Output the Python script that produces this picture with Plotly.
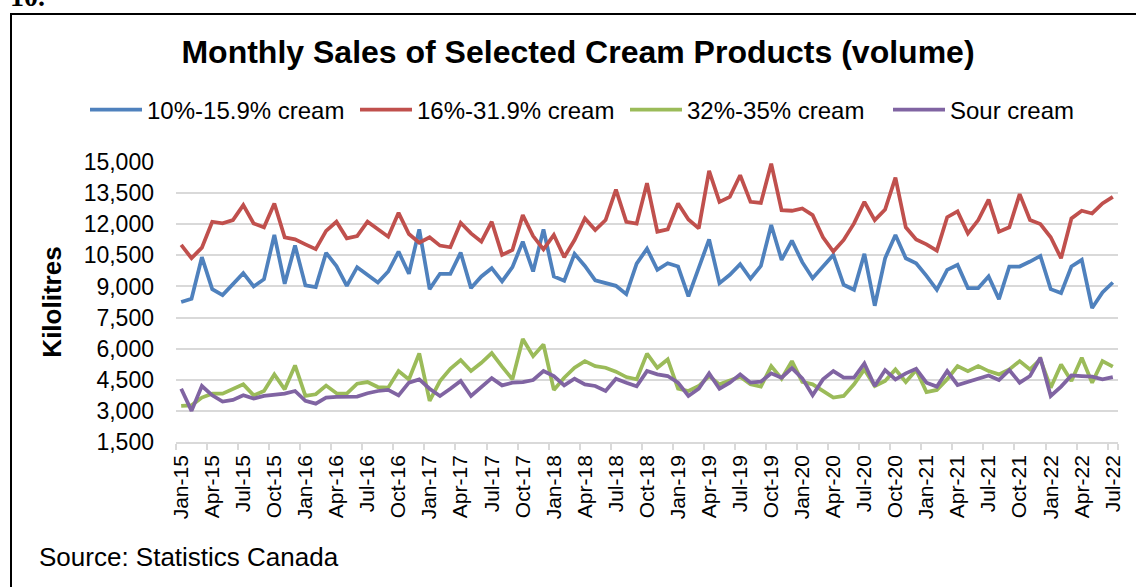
import plotly.graph_objects as go

months = []
for yr in range(15, 23):
    for m in ["Jan", "Feb", "Mar", "Apr", "May", "Jun", "Jul", "Aug", "Sep", "Oct", "Nov", "Dec"]:
        months.append(f"{m}-{yr}")
months = months[:91]  # Jan-15 .. Jul-22

cream_10_15 = [8250, 8410, 10410, 8870, 8580, 9110, 9640, 9000, 9350, 11480, 9130, 10970,
               9050, 8970, 10620, 9980, 9030, 9930, 9560, 9190, 9720, 10680, 9610, 11750,
               8870, 9610, 9610, 10630, 8920, 9480, 9880, 9240, 9930, 11160, 9720, 11750,
               9480, 9270, 10570, 9990, 9290, 9160, 9030, 8630, 10100, 10820, 9800, 10120,
               9960, 8520, 9880, 11270, 9160, 9560, 10070, 9370, 9990, 11960, 10280, 11210,
               10170, 9400, 9960, 10520, 9080, 8840, 10570, 8070, 10360, 11480, 10360, 10120,
               9510, 8840, 9800, 10040, 8920, 8920, 9480, 8390, 9960, 9960, 10200, 10470,
               8870, 8680, 9960, 10280, 7960, 8710, 9190]

cream_16_31 = [11000, 10360, 10870, 12120, 12040, 12200, 12920, 12040, 11850, 13000, 11370, 11270,
               11030, 10800, 11680, 12120, 11320, 11430, 12120, 11750, 11400, 12550, 11530, 11110,
               11370, 10970, 10890, 12070, 11560, 11160, 12120, 10520, 10760, 12440, 11430, 10790,
               11480, 10410, 11240, 12280, 11720, 12200, 13670, 12120, 12030, 13980, 11640, 11750,
               13000, 12230, 11800, 14570, 13080, 13320, 14360, 13080, 13030, 14920, 12680, 12650,
               12760, 12440, 11370, 10680, 11240, 12040, 13080, 12200, 12710, 14250, 11850, 11270,
               11030, 10730, 12340, 12620, 11560, 12200, 13190, 11640, 11850, 13450, 12200, 12010,
               11370, 10360, 12280, 12650, 12520, 13000, 13320]

cream_32_35 = [3240, 3270, 3640, 3830, 3830, 4070, 4280, 3750, 3960, 4760, 4040, 5190,
               3720, 3800, 4220, 3850, 3830, 4310, 4390, 4150, 4120, 4920, 4520, 5770,
               3480, 4440, 5030, 5450, 4920, 5320, 5790, 5130, 4520, 6470, 5640, 6200,
               4010, 4600, 5080, 5400, 5160, 5080, 4890, 4630, 4520, 5760, 5080, 5480,
               4070, 3960, 4200, 4680, 4280, 4470, 4650, 4280, 4170, 5160, 4550, 5400,
               4400, 4280, 3960, 3640, 3720, 4280, 5000, 4200, 4440, 5000, 4390, 4970,
               3910, 4010, 4530, 5160, 4920, 5160, 4920, 4760, 5000, 5400, 5000, 5480,
               4120, 5240, 4440, 5560, 4360, 5400, 5130]

sour_cream = [4070, 3000, 4200, 3750, 3450, 3530, 3750, 3590, 3720, 3770, 3830, 3960,
              3480, 3350, 3640, 3680, 3690, 3690, 3850, 3960, 4010, 3750, 4360, 4520,
              4070, 3720, 4070, 4440, 3720, 4170, 4580, 4230, 4360, 4390, 4490, 4920,
              4680, 4230, 4550, 4280, 4200, 3960, 4550, 4360, 4190, 4920, 4760, 4680,
              4360, 3720, 4070, 4810, 4070, 4360, 4760, 4360, 4410, 4810, 4600, 5060,
              4570, 3750, 4520, 4920, 4600, 4600, 5290, 4200, 4970, 4520, 4810, 5030,
              4360, 4170, 4920, 4250, 4390, 4550, 4710, 4490, 4970, 4360, 4680, 5560,
              3720, 4170, 4710, 4680, 4650, 4520, 4630]

series_names = ["10%-15.9% cream", "16%-31.9% cream", "32%-35% cream", "Sour cream"]
series_values = [cream_10_15, cream_16_31, cream_32_35, sour_cream]
series_colors = ["#4F81BD", "#C0504D", "#9BBB59", "#8064A2"]

y_ticks = [1500, 3000, 4500, 6000, 7500, 9000, 10500, 12000, 13500, 15000]

W, H = 1136, 587
ML, MR, MT, MB = 176, 18, 162, 145
PW, PH = W - ML - MR, H - MT - MB


def px(x):
    return (x - ML) / PW


def py(y):
    return (H - MB - y) / PH


FONT = "Liberation Sans, Arial, sans-serif"

fig = go.Figure()
idx = list(range(len(months)))
legend_ids = ["legend", "legend2", "legend3", "legend4"]
legend_x = [85, 355, 625, 888]
for name, vals, col, lid in zip(series_names, series_values, series_colors, legend_ids):
    fig.add_trace(go.Scatter(x=idx, y=vals, name=name, mode="lines", legend=lid,
                             line=dict(color=col, width=3.75)))

legend_common = dict(orientation="h", xanchor="left", yanchor="middle", y=py(110),
                     font=dict(size=24, family=FONT, color="black"), itemwidth=52,
                     bgcolor="rgba(0,0,0,0)")
legends = {lid: dict(legend_common, x=px(lx)) for lid, lx in zip(legend_ids, legend_x)}

tick_idx = idx[::3]
fig.update_layout(
    width=W, height=H,
    margin=dict(l=ML, r=MR, t=MT, b=MB),
    paper_bgcolor="white", plot_bgcolor="white",
    font=dict(family=FONT, color="black"),
    title=dict(text="<b>Monthly Sales of Selected Cream Products (volume)</b>",
               xref="container", x=578 / W, xanchor="center",
               yref="container", y=1 - 52 / H, yanchor="middle",
               font=dict(size=32, family=FONT, color="black")),
    showlegend=True,
    **legends,
    xaxis=dict(range=[-0.5, len(months) - 0.5], tickmode="array", tickvals=tick_idx,
               ticktext=[months[i] for i in tick_idx], tickangle=-90,
               tickfont=dict(size=21, family=FONT), ticks="", showgrid=False,
               zeroline=False, showline=True, linecolor="#D9D9D9", linewidth=1.5,
               ticklabelstandoff=3,
               minor=dict(tickmode="array", tickvals=[i - 0.5 for i in tick_idx] + [len(months) - 0.5],
                          ticks="outside", ticklen=6, tickcolor="#D9D9D9", tickwidth=1.5,
                          showgrid=False)),
    yaxis=dict(range=[1500, 15000], tickmode="array", tickvals=y_ticks,
               ticktext=[f"{v:,}" for v in y_ticks], tickfont=dict(size=23, family=FONT),
               showgrid=True, gridcolor="#D9D9D9", gridwidth=1.5, zeroline=False,
               ticks="", ticklabelstandoff=21,
               title=dict(text="<b>Kilolitres</b>", font=dict(size=26, family=FONT), standoff=14)),
)

# outer frame of the exhibit
fig.add_shape(type="rect", xref="paper", yref="paper",
              x0=px(11), x1=px(1150), y0=py(600), y1=py(14),
              line=dict(color="black", width=2), fillcolor="rgba(0,0,0,0)", layer="below")

fig.add_annotation(text="<b>10.</b>", xref="paper", yref="paper", x=px(8), y=py(-4),
                   xanchor="left", yanchor="middle", showarrow=False,
                   font=dict(size=28, family="Liberation Serif, Times New Roman, serif"))

fig.add_annotation(text="Source: Statistics Canada", xref="paper", yref="paper",
                   x=px(37), y=py(557), xanchor="left", yanchor="middle", showarrow=False,
                   font=dict(size=26, family=FONT))

fig.write_html("out.html", config={"displayModeBar": False},
               post_script="document.body.style.margin='0px';")
